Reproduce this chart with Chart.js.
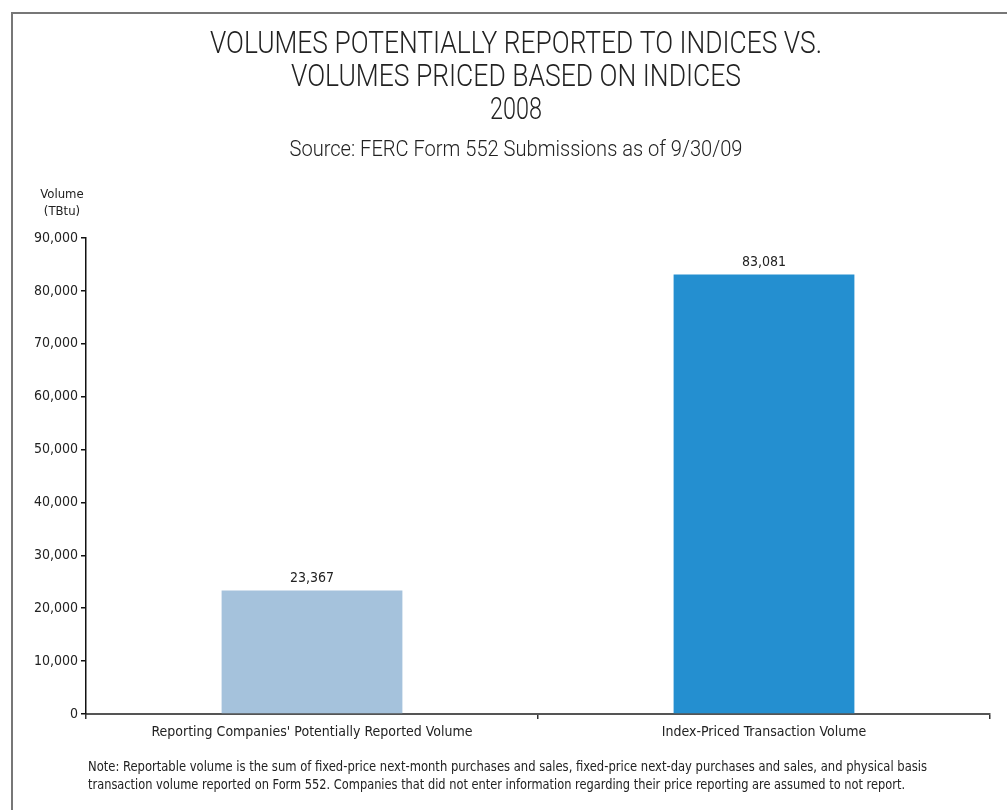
<!DOCTYPE html>
<html>
<head>
<meta charset="utf-8">
<script src="https://cdn.jsdelivr.net/npm/chart.js@4"></script>
<style>
  body { margin: 0; background: #fff; }
  #wrap { position: relative; width: 1007px; height: 810px; }
  #frame { position: absolute; left: 11px; top: 12px; right: 0; bottom: 0;
           border-top: 2px solid #777; border-left: 2px solid #777; pointer-events: none; }
</style>
</head>
<body>
<div id="wrap">
  <canvas id="chart" width="1007" height="810"></canvas>
  <div id="frame"></div>
</div>
<script>
// data
const categories = ["Reporting Companies' Potentially Reported Volume", 'Index-Priced Transaction Volume'];
const volumes    = [23367, 83081];
const barColors  = ['#a5c2dc', '#248fd0'];
const yTicksMax  = 90000;
const yStep      = 10000;

const titleLines = ['VOLUMES POTENTIALLY REPORTED TO INDICES VS.', 'VOLUMES PRICED BASED ON INDICES', '2008'];
const sourceLine = 'Source: FERC Form 552 Submissions as of 9/30/09';
const axisLabel  = ['Volume', '(TBtu)'];
const noteLines  = [
  'Note: Reportable volume is the sum of fixed-price next-month purchases and sales, fixed-price next-day purchases and sales, and physical basis',
  'transaction volume reported on Form 552. Companies that did not enter information regarding their price reporting are assumed to not report.'
];

const FONT  = "'Liberation Sans Narrow', 'DejaVu Sans Condensed', sans-serif";
const LIGHT = "Roboto, 'Open Sans', sans-serif";
const fmt   = v => Number(v).toLocaleString('en-US');

// ── text around the plot ───────────────────────────────────────
const textPlugin = {
  id: 'texts',
  afterDraw(chart) {
    const c = chart.ctx;
    const mid = 516;
    c.save();
    c.fillStyle = '#222';
    c.textBaseline = 'middle';
    c.textAlign = 'center';

    c.font = '300 31px ' + LIGHT;
    c.fillText(titleLines[0], mid, 45, 612);
    c.fillText(titleLines[1], mid, 78, 450);
    c.fillText(titleLines[2], mid, 111, 52);

    c.font = '300 22px ' + LIGHT;
    c.fillText(sourceLine, mid, 150, 453);

    c.font = '13px ' + FONT;
    c.fillText(axisLabel[0], 62, 195);
    c.fillText(axisLabel[1], 62, 212);

    c.textAlign = 'left';
    c.font = '14px ' + FONT;
    c.fillText(noteLines[0], 88, 767, 839);
    c.fillText(noteLines[1], 88, 785, 817);
    c.restore();
  }
};

// ── value labels above bars ────────────────────────────────────
const valuePlugin = {
  id: 'values',
  afterDatasetsDraw(chart) {
    const c = chart.ctx;
    const meta = chart.getDatasetMeta(0);
    c.save();
    c.font = '14px ' + FONT;
    c.fillStyle = '#222';
    c.textAlign = 'center';
    c.textBaseline = 'bottom';
    meta.data.forEach((bar, i) => {
      c.fillText(fmt(volumes[i]), bar.x, bar.y - 5);
    });
    c.restore();
  }
};

new Chart(document.getElementById('chart').getContext('2d'), {
  type: 'bar',
  data: {
    labels: categories,
    datasets: [{
      data: volumes,
      backgroundColor: barColors,
      borderWidth: 0,
      categoryPercentage: 1,
      barPercentage: 0.4,
    }],
  },
  options: {
    responsive: false,
    animation: false,
    events: [],
    layout: { padding: { top: 238, right: 17, left: 0, bottom: 0 } },
    plugins: {
      legend: { display: false },
      tooltip: { enabled: false },
      title: { display: false },
    },
    scales: {
      x: {
        afterFit: s => { s.height = 96; },
        border: { display: true, color: '#555', width: 2 },
        grid: { display: true, drawOnChartArea: false, offset: true, color: '#333', tickLength: 5, lineWidth: 1.5 },
        ticks: { color: '#222', font: { family: FONT, size: 14 }, padding: 5, maxRotation: 0 },
      },
      y: {
        min: 0, max: yTicksMax,
        afterFit: s => { s.width = 86; },
        border: { display: true, color: '#111', width: 1.5 },
        grid: { display: true, drawOnChartArea: false, color: '#111', tickLength: 5, lineWidth: 1.5 },
        ticks: { stepSize: yStep, color: '#222', font: { family: FONT, size: 14 }, padding: 3,
                 callback: v => fmt(v) },
      },
    },
  },
  plugins: [textPlugin, valuePlugin],
});
</script>
</body>
</html>
